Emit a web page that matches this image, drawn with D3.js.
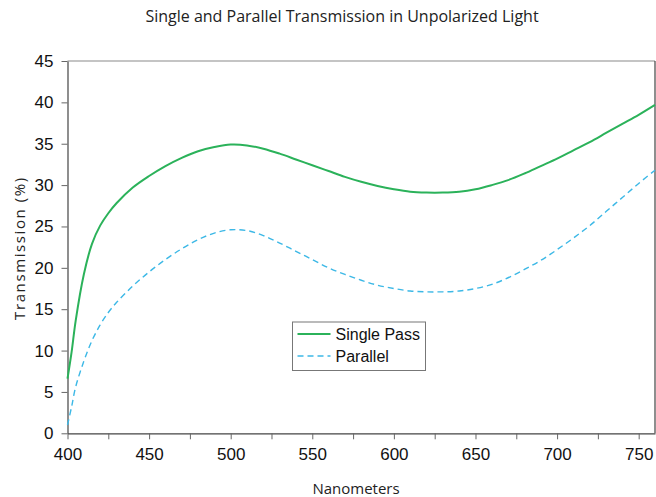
<!DOCTYPE html>
<html>
<head>
<meta charset="utf-8">
<script src="https://cdn.jsdelivr.net/npm/d3@7"></script>
<style>
  body { margin: 0; background: #fff; }
  svg { display: block; }
</style>
</head>
<body>
<svg id="chart" width="656" height="497"></svg>
<script>
// Wavelengths (nm)
const wavelengths = [400, 402.5, 405, 410, 415, 420, 425, 430, 440, 450, 460, 470, 480, 490, 500,
  510, 520, 530, 540, 550, 560, 570, 580, 590, 600, 610, 620, 630, 640, 650,
  660, 670, 680, 690, 700, 710, 720, 730, 740, 750, 760];

// Transmission (%)
const singlePass = [6.6, 9.8, 13.6, 19.2, 22.9, 25.1, 26.6, 27.8, 29.7, 31.1, 32.3, 33.3, 34.1, 34.6, 34.9,
  34.8, 34.4, 33.8, 33.1, 32.4, 31.7, 31.0, 30.4, 29.9, 29.5, 29.2, 29.1, 29.1, 29.2, 29.5,
  30.0, 30.6, 31.4, 32.3, 33.2, 34.2, 35.2, 36.3, 37.4, 38.5, 39.7];

const parallel = [1.0, 3.2, 5.6, 8.7, 11.2, 13.1, 14.6, 15.8, 17.8, 19.5, 21.0, 22.3, 23.4, 24.2, 24.6,
  24.5, 23.9, 23.0, 22.0, 21.0, 20.0, 19.2, 18.5, 17.9, 17.5, 17.2, 17.1, 17.1, 17.2, 17.5,
  18.0, 18.8, 19.8, 20.9, 22.2, 23.6, 25.1, 26.8, 28.5, 30.2, 31.8];

const xTicks = [400, 450, 500, 550, 600, 650, 700, 750];
const xMinorTicks = [425, 475, 525, 575, 625, 675, 725];
const yTicks = [0, 5, 10, 15, 20, 25, 30, 35, 40, 45];

const seriesNames = ["Single Pass", "Parallel"];
const seriesColors = ["#2bb25a", "#3cb8e6"];

const svg = d3.select("#chart");
const plotLeft = 67.5, plotRight = 655, plotTop = 61, plotBottom = 433.3;

const x = d3.scaleLinear().domain([400, 760]).range([plotLeft, plotRight]);
const y = d3.scaleLinear().domain([0, 45]).range([plotBottom, plotTop]);

// Frame: top gray, right dark
svg.append("line")
  .attr("x1", plotLeft).attr("x2", plotRight).attr("y1", plotTop).attr("y2", plotTop)
  .attr("stroke", "#b0b0b0").attr("stroke-width", 1.5);
svg.append("line")
  .attr("x1", plotRight).attr("x2", plotRight).attr("y1", plotTop).attr("y2", plotBottom)
  .attr("stroke", "#444").attr("stroke-width", 1.2);

// X axis
svg.append("g")
  .attr("transform", `translate(0,${plotBottom})`)
  .call(d3.axisBottom(x).tickValues(xTicks).tickSize(6).tickPadding(9).tickSizeOuter(0));
svg.append("g")
  .attr("transform", `translate(0,${plotBottom})`)
  .call(d3.axisBottom(x).tickValues(xMinorTicks).tickSize(6).tickFormat("").tickSizeOuter(0))
  .select(".domain").remove();

// Y axis
svg.append("g")
  .attr("transform", `translate(${plotLeft},0)`)
  .call(d3.axisLeft(y).tickValues(yTicks).tickSize(6).tickPadding(8).tickSizeOuter(0));

svg.selectAll(".domain").attr("stroke", "#444").attr("stroke-width", 1.2);
svg.selectAll(".tick line").attr("stroke", "#666");
svg.selectAll(".tick text")
  .attr("fill", "#111")
  .style("font-family", "Liberation Sans, Arial, sans-serif")
  .style("font-size", "17px");

// Lines
const values = [singlePass, parallel];
const line = d3.line()
  .x((d) => x(d[0]))
  .y((d) => y(d[1]))
  .curve(d3.curveCatmullRom.alpha(0.5));

values.forEach((vals, i) => {
  svg.append("path")
    .datum(wavelengths.map((w, j) => [w, vals[j]]))
    .attr("d", line)
    .attr("fill", "none")
    .attr("stroke", seriesColors[i])
    .attr("stroke-width", i === 0 ? 2 : 1.4)
    .attr("stroke-dasharray", i === 0 ? null : "6,4");
});

// Legend
const legend = svg.append("g").attr("transform", "translate(292.5,322)");
legend.append("rect")
  .attr("width", 133).attr("height", 48.5)
  .attr("fill", "#fff").attr("stroke", "#777").attr("stroke-width", 1);
seriesNames.forEach((name, i) => {
  const ly = 12 + i * 22;
  legend.append("line")
    .attr("x1", 5).attr("x2", 38).attr("y1", ly).attr("y2", ly)
    .attr("stroke", seriesColors[i])
    .attr("stroke-width", i === 0 ? 2 : 1.4)
    .attr("stroke-dasharray", i === 0 ? null : "6,4");
  legend.append("text")
    .attr("x", 43).attr("y", ly + 6)
    .attr("fill", "#111")
    .style("font-family", "Liberation Sans, Arial, sans-serif")
    .style("font-size", "16px")
    .text(name);
});

// Title and axis labels
svg.append("text")
  .attr("x", 342).attr("y", 22)
  .attr("text-anchor", "middle")
  .attr("fill", "#222")
  .style("font-family", "Open Sans, sans-serif")
  .style("font-size", "16px")
  .text("Single and Parallel Transmission in Unpolarized Light");

svg.append("text")
  .attr("x", 356).attr("y", 494)
  .attr("text-anchor", "middle")
  .attr("fill", "#222")
  .style("font-family", "Open Sans, sans-serif")
  .style("font-size", "15px")
  .text("Nanometers");

svg.append("text")
  .attr("transform", "translate(25,248) rotate(-90)")
  .attr("text-anchor", "middle")
  .attr("fill", "#222")
  .style("font-family", "Open Sans, sans-serif")
  .style("font-size", "15px")
  .style("letter-spacing", "1.6px")
  .text("Transmission (%)");
</script>
</body>
</html>
